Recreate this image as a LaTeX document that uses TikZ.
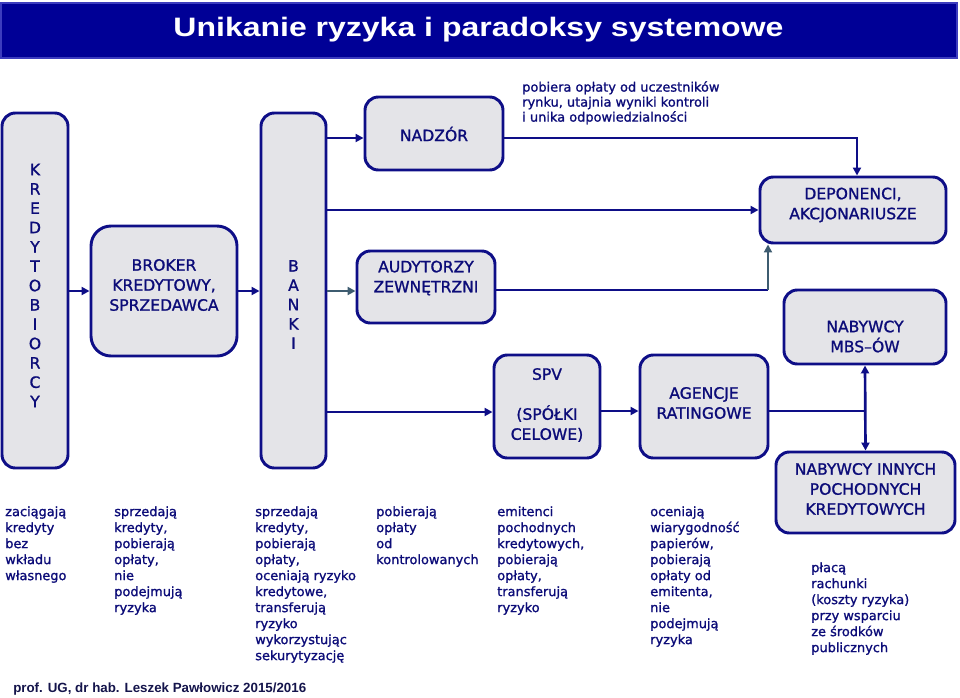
\documentclass[tikz,border=0pt]{standalone}
\usepackage{fontspec}
\setmainfont{DejaVu Sans}[FakeBold=1.2]
\newfontfamily\titlefont{Liberation Sans}
\usetikzlibrary{arrows.meta,calc}
\definecolor{navy}{RGB}{14,14,135}
\definecolor{txtnavy}{RGB}{12,12,120}
\definecolor{boxfill}{RGB}{228,228,232}
\definecolor{slate}{RGB}{62,92,112}
\definecolor{barfill}{RGB}{0,0,150}
\definecolor{barline}{RGB}{60,60,190}
\definecolor{footcol}{RGB}{20,20,75}
\tikzset{
  box/.style={draw=navy, line width=2.2pt, fill=boxfill, rounded corners=#1, inner sep=0pt},
  box/.default=10pt,
  btxt/.style={text=txtnavy, align=center, font=\fontsize{11.7pt}{15pt}\selectfont, inner sep=0pt},
  vtxt/.style={text=txtnavy, align=center, font=\fontsize{11.7pt}{14.5pt}\selectfont, inner sep=0pt},
  desc/.style={text=txtnavy, align=left, anchor=north west, font=\fontsize{9.7pt}{12pt}\selectfont, inner sep=0pt},
  conn/.style={draw=navy, line width=2pt, -{Triangle[length=6pt,width=6pt]}},
  cline/.style={draw=navy, line width=2pt},
}
\begin{document}
\begin{tikzpicture}[x=0.75pt,y=-0.75pt]
\useasboundingbox (0,0) rectangle (960,697);
% title bar
\node[draw=barline, line width=1.5pt, fill=barfill, minimum width=717pt, minimum height=41.25pt, inner sep=0pt] (bar) at (479,30.5) {};
\node[anchor=base, text=white, font=\titlefont\bfseries\fontsize{20pt}{22pt}\selectfont, inner sep=0pt] (title) at (478.5,36.5) {\scalebox{1.2}[1]{Unikanie ryzyka i paradoksy systemowe}};
% boxes
\node[box, minimum width=49.5pt, minimum height=266.25pt] (kred) at (35,290.5) {};
\node[vtxt] (kredt) at (35,285.5) {K\\R\\E\\D\\Y\\T\\O\\B\\I\\O\\R\\C\\Y};
\node[box=15pt, minimum width=109.5pt, minimum height=97.5pt] (broker) at (164,291) {};
\node[btxt] (brokert) at (164,285) {BROKER\\KREDYTOWY,\\SPRZEDAWCA};
\node[box, minimum width=48.75pt, minimum height=266.25pt] (banki) at (293.5,290.5) {};
\node[vtxt] (bankit) at (293.5,304.5) {B\\A\\N\\K\\I};
\node[box, minimum width=103.5pt, minimum height=54.75pt] (nadzor) at (434,133.5) {};
\node[btxt] (nadzort) at (434,134) {NADZÓR};
\node[box, minimum width=103.5pt, minimum height=54pt] (aud) at (426,287) {};
\node[btxt] (audt) at (426,278) {AUDYTORZY\\ZEWNĘTRZNI};
\node[box, minimum width=79.5pt, minimum height=77.25pt] (spv) at (547,406.5) {};
\node[btxt] (spvt) at (547,405) {SPV\\[15pt](SPÓŁKI\\CELOWE)};
\node[box, minimum width=96pt, minimum height=77.25pt] (agencje) at (704,406.5) {};
\node[btxt] (agencjet) at (704,403) {AGENCJE\\RATINGOWE};
\node[box, minimum width=139.5pt, minimum height=49.5pt] (dep) at (853,210) {};
\node[btxt] (dept) at (853,205) {DEPONENCI,\\AKCJONARIUSZE};
\node[box, minimum width=121.5pt, minimum height=55.5pt] (mbs) at (865,327) {};
\node[btxt] (mbst) at (865,336.5) {NABYWCY\\MBS–ÓW};
\node[box, minimum width=134.25pt, minimum height=60.75pt] (innych) at (865.5,492.5) {};
\node[btxt] (innycht) at (865.5,489) {NABYWCY INNYCH\\POCHODNYCH\\KREDYTOWYCH};
% connectors
\coordinate (J) at (866,411);
\coordinate (Acorner) at (768,290);
\draw[conn] (kred.east |- broker.west) -- (broker.west);
\draw[conn] (broker.east) -- (broker.east -| banki.west);
\draw[conn] (banki.east |- 0,138) -- (nadzor.west |- 0,138);
\draw[conn] (banki.east |- dep.west) -- (dep.west);
\draw[conn, draw=slate] (banki.east |- 0,291) -- (aud.west |- 0,291);
\draw[conn] (banki.east |- 0,412) -- (spv.west |- 0,412);
\draw[conn] (nadzor.east |- 0,138) -| ([xshift=3pt]dep.north);
\draw[cline] (aud.east |- Acorner) -- (Acorner);
\draw[conn, draw=slate] (Acorner) -- (Acorner |- dep.south);
\draw[conn] (spv.east |- 0,411) -- (agencje.west |- 0,411);
\draw[cline] (agencje.east |- J) -- (J);
\draw[conn, {Triangle[length=6pt,width=6pt]}-{Triangle[length=6pt,width=6pt]}] (mbs.south) -- (innych.north);
% annotation
\node[desc, font=\fontsize{9.7pt}{11.25pt}\selectfont] (note) at (522,81) {pobiera opłaty od uczestników\\rynku, utajnia wyniki kontroli\\i unika odpowiedzialności};
% bottom descriptions
\node[desc] (d1) at (5,506) {zaciągają\\kredyty\\bez\\wkładu\\własnego};
\node[desc] (d2) at (114,506) {sprzedają\\kredyty,\\pobierają\\opłaty,\\nie\\podejmują\\ryzyka};
\node[desc] (d3) at (255,506) {sprzedają\\kredyty,\\pobierają\\opłaty,\\oceniają ryzyko\\kredytowe,\\transferują\\ryzyko\\wykorzystując\\sekurytyzację};
\node[desc] (d4) at (376,506) {pobierają\\opłaty\\od\\kontrolowanych};
\node[desc] (d5) at (497,506) {emitenci\\pochodnych\\kredytowych,\\pobierają\\opłaty,\\transferują\\ryzyko};
\node[desc] (d6) at (650,506) {oceniają\\wiarygodność\\papierów,\\pobierają\\opłaty od\\emitenta,\\nie\\podejmują\\ryzyka};
\node[desc] (d7) at (811,562) {płacą\\rachunki\\(koszty ryzyka)\\przy wsparciu\\ze środków\\publicznych};
% footer
\node[anchor=base west, text=footcol, font=\titlefont\bfseries\fontsize{10pt}{12pt}\selectfont, inner sep=0pt] (foot) at (13,692) {prof. UG, dr hab. Leszek Pawłowicz 2015/2016};
\end{tikzpicture}
\end{document}
